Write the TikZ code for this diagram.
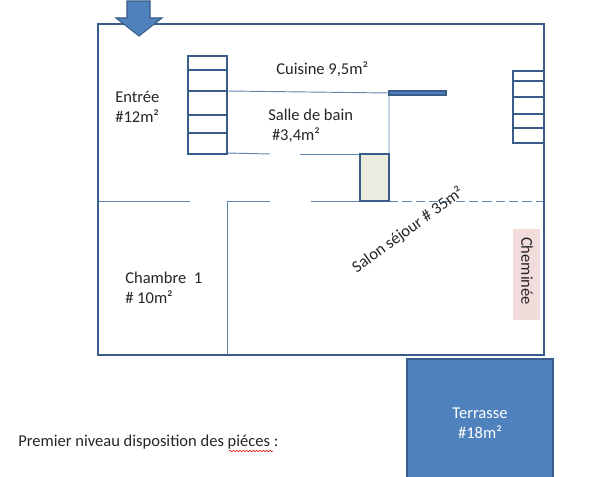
\documentclass[tikz,border=0pt]{standalone}
\usepackage{fontspec}
\setmainfont{Carlito}
\usetikzlibrary{decorations.pathmorphing}
\definecolor{wallblue}{HTML}{385D8A}
\definecolor{thinblue}{HTML}{5F86B0}
\definecolor{roomblue}{HTML}{4F81BD}
\definecolor{pinkbox}{HTML}{F2DCDB}
\definecolor{greybox}{HTML}{ECEBE0}
\tikzset{
  wall/.style={draw=wallblue,line width=1.5pt},
  thinwall/.style={draw=thinblue,line width=.7pt},
  label/.style={font=\fontsize{12.4}{15}\selectfont,text=black!85,align=left,inner sep=0pt},
}
\begin{document}
\begin{tikzpicture}[x=.75pt,y=-.75pt]
\useasboundingbox (0,0) rectangle (616,477);
\fill[white] (0,0) rectangle (616,477);
% outer walls
\draw[thinwall] (227,91) -- (389,93) -- (389,154);
\draw[thinwall] (227,153) -- (270,154);
\draw[thinwall] (300,154) -- (360,154);
\draw[thinwall] (98,201) -- (190,201);
\draw[thinwall] (227,355) -- (227,201) -- (270,201);
\draw[thinwall] (311,201) -- (360,201);
\draw[thinwall,dash pattern=on 7pt off 3pt] (389,201) -- (544,201);
\draw[wall] (98,24) rectangle (544,355);
% stairs
\draw[wall] (188,56) rectangle (227,154);
\foreach \y in {70,91,115,133}
  \draw[wall] (188,\y) -- (227,\y);
\draw[wall] (513,71) rectangle (544,143);
\foreach \y in {81,97,114,128}
  \draw[wall] (513,\y) -- (544,\y);
% boxes
\draw[wall,fill=greybox] (360,154) rectangle (389,201);
\draw[draw=wallblue,fill=roomblue,line width=1pt] (389,91) rectangle (446,95);
\fill[pinkbox] (513,229) rectangle (540,320);
\draw[draw=wallblue,fill=roomblue,line width=1pt] (407,359) rectangle (553,480);
% entrance arrow
\draw[draw=wallblue,fill=roomblue,line width=.8pt] (127,1) -- (150,1) -- (150,18) -- (162,18) -- (139,36) -- (116,18) -- (127,18) -- cycle;
% labels
\node[label,anchor=west] (entree) at (115,107) {Entrée\\\#12m²};
\node[label,anchor=west] (cuisine) at (276,69) {Cuisine 9,5m²};
\node[label,anchor=west] (bain) at (268,126) {Salle de bain\\\ \#3,4m²};
\node[label,anchor=west] (chambre) at (125,288) {Chambre~~1\\\# 10m²};
\node[label,rotate=36] (salon) at (408,230) {Salon séjour \# 35m²};
\node[label,rotate=-90] (cheminee) at (527,271) {Cheminée};
\node[label,text=white,align=center] (terrasse) at (480,423) {Terrasse\\\#18m²};
\node[label,anchor=west] (titre) at (18,442) {Premier niveau disposition des piéces :};
\draw[red!80!black,line width=.4pt,decorate,decoration={snake,amplitude=.5pt,segment length=2.5pt}] (229,451) -- (273,451);
\end{tikzpicture}
\end{document}
